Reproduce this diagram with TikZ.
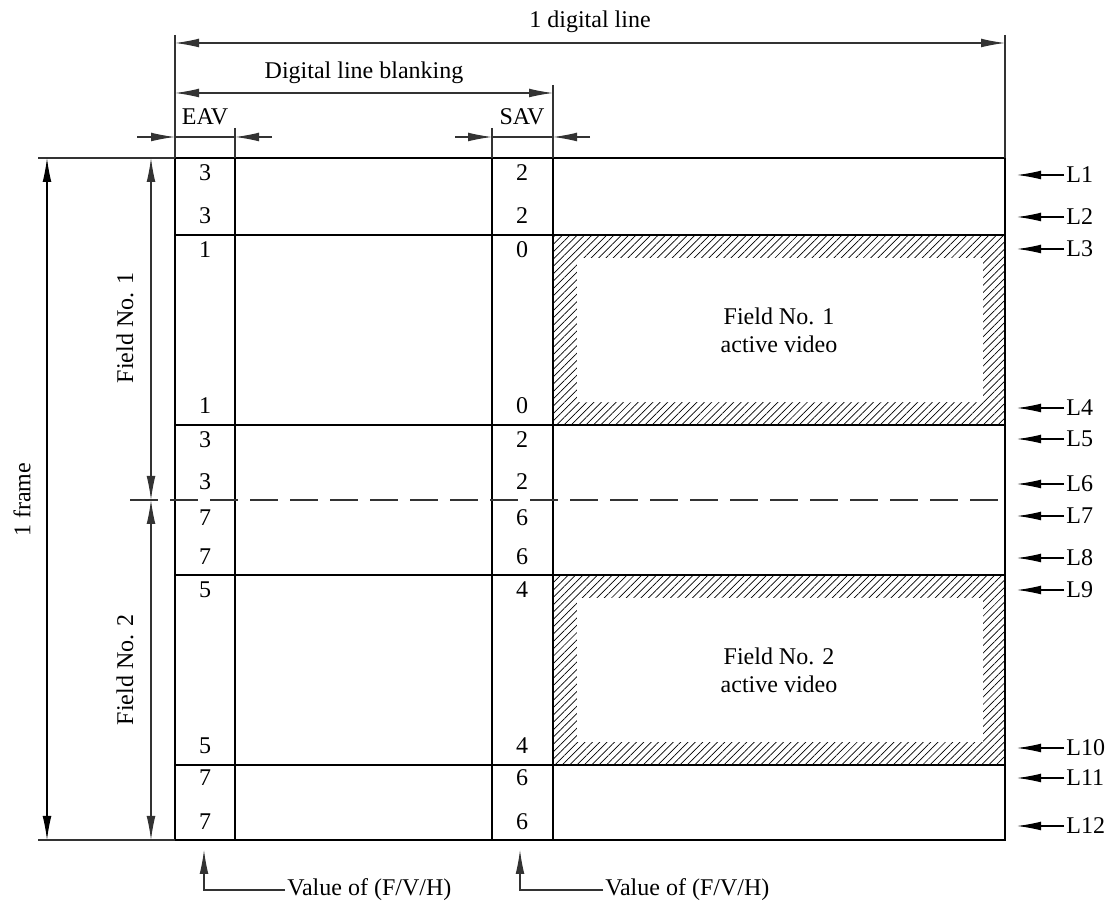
\documentclass[tikz,border=0pt]{standalone}
\usepackage{fontspec}
\setmainfont{Liberation Serif}
\usetikzlibrary{arrows.meta,patterns.meta,positioning}
\tikzset{
  txt/.style={font=\fontsize{12}{14}\selectfont, inner sep=1pt},
  gridline/.style={line width=1.1pt},
  dimline/.style={line width=0.55pt, black!80},
  tipend/.style={-{Latex[length=12pt,width=4.4pt]}},
  tipboth/.style={{Latex[length=12pt,width=4.4pt]}-{Latex[length=12pt,width=4.4pt]}},
  hatch/.style={pattern={Lines[angle=45,distance=2.6pt,line width=0.35pt]}}
}
\begin{document}
\begin{tikzpicture}[x=0.5pt,y=-0.5pt]
    \useasboundingbox (0,0) rectangle (1110,908);
    % hatched active video areas
    \fill[hatch] (553,235) rectangle (1005,425);
    \fill[white] (577,258) rectangle (983,402);
    \fill[hatch] (553,575) rectangle (1005,765);
    \fill[white] (577,598) rectangle (983,742);
    % table
    \draw[gridline] (175,158) rectangle (1005,840);
    \foreach \y in {235,425,575,765}
        \draw[gridline] (175,\y) -- (1005,\y);
    \foreach \x in {235,492,553}
        \draw[gridline] (\x,158) -- (\x,840);
    \draw[dimline,dash pattern=on 14pt off 6pt] (130,500) -- (1005,500);
    \node[txt,align=center] (act1) at (779,330) {Field No. 1\\active video};
    \node[txt,align=center] (act2) at (779,670) {Field No. 2\\active video};
    % values and line numbers
    \foreach \y/\a/\b/\n/\ly in {173/3/2/1/175, 216/3/2/2/217, 250/1/0/3/249, 406/1/0/4/408,
        440/3/2/5/439, 482/3/2/6/484, 518/7/6/7/516, 557/7/6/8/558,
        590/5/4/9/590, 746/5/4/10/748, 778/7/6/11/778, 822/7/6/12/826} {
        \node[txt] (eav\n) at (205,\y) {\a};
        \node[txt] (sav\n) at (522,\y) {\b};
        \node[txt,anchor=west] (lab\n) at (1064,\ly) {L\n};
        \coordinate (edge\n) at (1017,\ly);
        \draw[dimline,black,tipend] (lab\n.west) -- (edge\n);
    }
    % top dimensions
    \draw[dimline] (175,35) -- (175,158);
    \draw[dimline] (1005,35) -- (1005,158);
    \draw[dimline] (553,85) -- (553,158);
    \draw[dimline] (235,128) -- (235,158);
    \draw[dimline] (492,128) -- (492,158);
    \coordinate (dla) at (175,43);
    \coordinate (dlb) at (1005,43);
    \draw[dimline,tipboth] (dla) -- (dlb);
    \node[txt] (digline) at (590,22) {1 digital line};
    \coordinate (bla) at (175,93);
    \coordinate (blb) at (553,93);
    \draw[dimline,tipboth] (bla) -- (blb);
    \node[txt] (blank) at (364,73) {Digital line blanking};
    \coordinate (eava) at (137,137);
    \coordinate (eavb) at (175,137);
    \coordinate (eavc) at (235,137);
    \coordinate (eavd) at (272,137);
    \draw[dimline] (eavb) -- (eavc);
    \draw[dimline,tipend] (eava) -- (eavb);
    \draw[dimline,tipend] (eavd) -- (eavc);
    \node[txt] (eavlab) at (205,117) {EAV};
    \coordinate (sava) at (455,137);
    \coordinate (savb) at (492,137);
    \coordinate (savc) at (553,137);
    \coordinate (savd) at (590,137);
    \draw[dimline] (savb) -- (savc);
    \draw[dimline,tipend] (sava) -- (savb);
    \draw[dimline,tipend] (savd) -- (savc);
    \node[txt] (savlab) at (522,117) {SAV};
    % left dimensions
    \draw[dimline] (38,158) -- (175,158);
    \draw[dimline] (38,840) -- (175,840);
    \coordinate (fra) at (47,158);
    \coordinate (frb) at (47,840);
    \draw[dimline,black,tipboth] (fra) -- (frb);
    \node[txt,rotate=90] (frame) at (22,500) {1 frame};
    \coordinate (fda) at (151,158);
    \coordinate (fdb) at (151,500);
    \coordinate (fdc) at (151,840);
    \draw[dimline,tipboth] (fda) -- (fdb);
    \draw[dimline,tipboth] (fdb) -- (fdc);
    \node[txt,rotate=90] (field1) at (125,328) {Field No. 1};
    \node[txt,rotate=90] (field2) at (125,670) {Field No. 2};
    % bottom notes
    \node[txt,anchor=west] (note1) at (285,890) {Value of (F/V/H)};
    \node[txt,anchor=west] (note2) at (603,890) {Value of (F/V/H)};
    \coordinate (up1) at (204,850);
    \coordinate (up2) at (520,850);
    \draw[dimline,tipend] (note1.west) -| (up1);
    \draw[dimline,tipend] (note2.west) -| (up2);
\end{tikzpicture}
\end{document}
